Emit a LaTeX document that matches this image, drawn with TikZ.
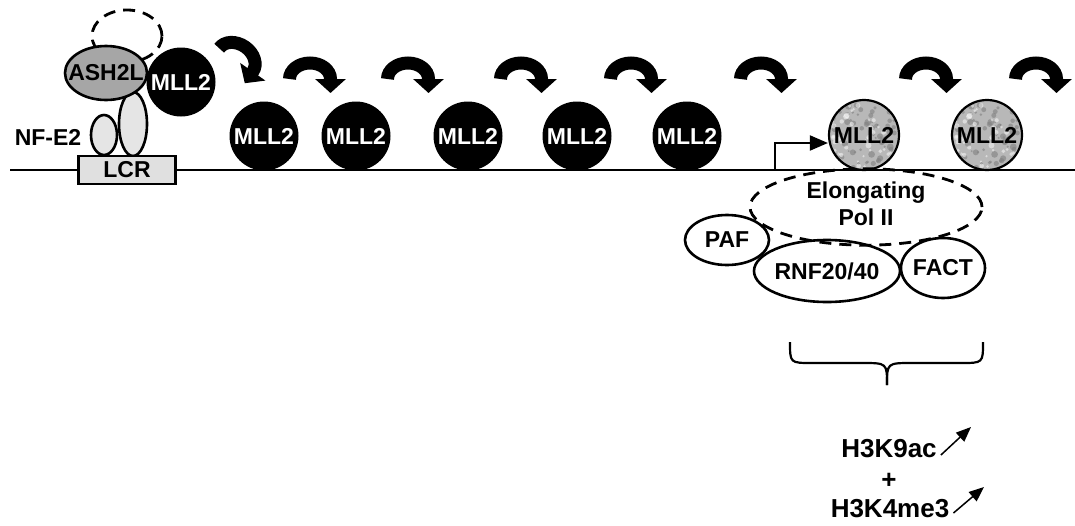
\documentclass[tikz,border=0pt]{standalone}
\usepackage{fontspec}
\setmainfont{Liberation Sans}
\usetikzlibrary{shapes.geometric,arrows.meta}
\newcommand{\lbl}[1]{\makebox[0pt]{#1}}
\tikzset{pics/bentarr/.style={code={
  \draw[bent] (-20.5,0) arc[start angle=180,end angle=360,x radius=20.5,y radius=16] -- ++(0,14);
}}}

\begin{document}
\begin{tikzpicture}[x=1pt,y=-1pt,
  every node/.style={font=\fontsize{23}{27}\selectfont\bfseries, inner sep=0pt},
  blob/.style={ellipse, draw, line width=2.6pt},
  mll/.style={circle, fill=black, text=white, minimum size=69pt},
  mllg/.style={circle, draw, line width=2.2pt, fill=black!28, minimum size=70pt,
    path picture={\pgfmathsetseed{11}
      \foreach \k in {1,...,70}
        \fill[black!50, opacity=0.6] ([shift={(33*rand,33*rand)}]path picture bounding box.center) circle[radius=1+2.5*rnd];
      \foreach \k in {1,...,50}
        \fill[white, opacity=0.5] ([shift={(33*rand,33*rand)}]path picture bounding box.center) circle[radius=1+2*rnd];}},
  dsh/.style={dash pattern=on 12pt off 8pt, line width=2.8pt},
  bent/.style={line width=13pt, -{Triangle[length=14pt,width=30pt]}},
  histmark/.style={font=\fontsize{26}{30}\selectfont\bfseries}]
\useasboundingbox (0,0) rectangle (1075,525);

\coordinate (dnaL) at (10,170);
\coordinate (dnaR) at (1075,170);
\draw[line width=2pt] (dnaL) -- (dnaR);

\path (127,36) node[blob, dsh, minimum width=70pt, minimum height=52pt] (cplx) {}
      (104,135) node[blob, fill=black!10, minimum width=26pt, minimum height=40pt] (nfa) {}
      (133,124) node[blob, fill=black!10, minimum width=28pt, minimum height=64pt] (nfb) {}
      (127,170) node[draw, line width=2.2pt, fill=black!12, minimum width=97pt, minimum height=28pt] (lcr) {LCR}
      (48,137) node (nfe) {NF-E2}
      (106,73) node[blob, fill=black!35, minimum width=82pt, minimum height=54pt] (ash) {\lbl{ASH2L}}
      (181,82) node[mll] (m0) {\lbl{MLL2}}
      (264,136) node[mll] (m1) {\lbl{MLL2}}
      (356,136) node[mll] (m2) {\lbl{MLL2}}
      (468,136) node[mll] (m3) {\lbl{MLL2}}
      (577,136) node[mll] (m4) {\lbl{MLL2}}
      (687,136) node[mll] (m5) {\lbl{MLL2}}
      (864,135) node[mllg] (g1) {\lbl{MLL2}}
      (987,135) node[mllg] (g2) {\lbl{MLL2}}
      (866,207) node[blob, dsh, minimum width=232pt, minimum height=70pt] (pol)
            {\lbl{\begin{tabular}{@{}c@{}}Elongating\\Pol II\end{tabular}}}
      (727,240) node[blob, minimum width=84pt, minimum height=50pt] (paf) {\lbl{PAF}}
      (827,271) node[blob, minimum width=146pt, minimum height=62pt] (rnf) {\lbl{RNF20/40}}
      (943,268) node[blob, minimum width=84pt, minimum height=60pt] (fact) {\lbl{FACT}}
      (889,449) node[histmark] (ac) {H3K9ac}
      (889,481) node[histmark] (plus) {+}
      (890,509) node[histmark] (me) {H3K4me3}
      ;

% spreading arrows
\pic[rotate=-35] at (236,60) {bentarr};
\foreach \cx in {310,408,521,631,761,926,1036}
  \pic at (\cx,79) {bentarr};

% transcription start
\coordinate (tss) at (775,170);
\coordinate (tsstop) at (775,143);
\draw[line width=2pt, -{Triangle[length=18pt,width=15pt]}] (tss) -- (tsstop) -- (tsstop -| g1.west);

% brace
\draw[line width=2.2pt] (790,342) .. controls (790,363) .. (812,363) -- (862,363) .. controls (887,363) .. (887,385);
\draw[line width=2.2pt] (983,342) .. controls (983,363) .. (961,363) -- (912,363) .. controls (887,363) .. (887,385);

% marks up
\coordinate (acup) at (971,427);
\coordinate (meup) at (984,487);
\draw[line width=1.5pt, -{Triangle[length=15pt,width=12pt]}] ([xshift=4pt,yshift=-6pt]ac.east) -- (acup);
\draw[line width=1.5pt, -{Triangle[length=15pt,width=12pt]}] ([xshift=4pt,yshift=-4pt]me.east) -- (meup);
\end{tikzpicture}
\end{document}
